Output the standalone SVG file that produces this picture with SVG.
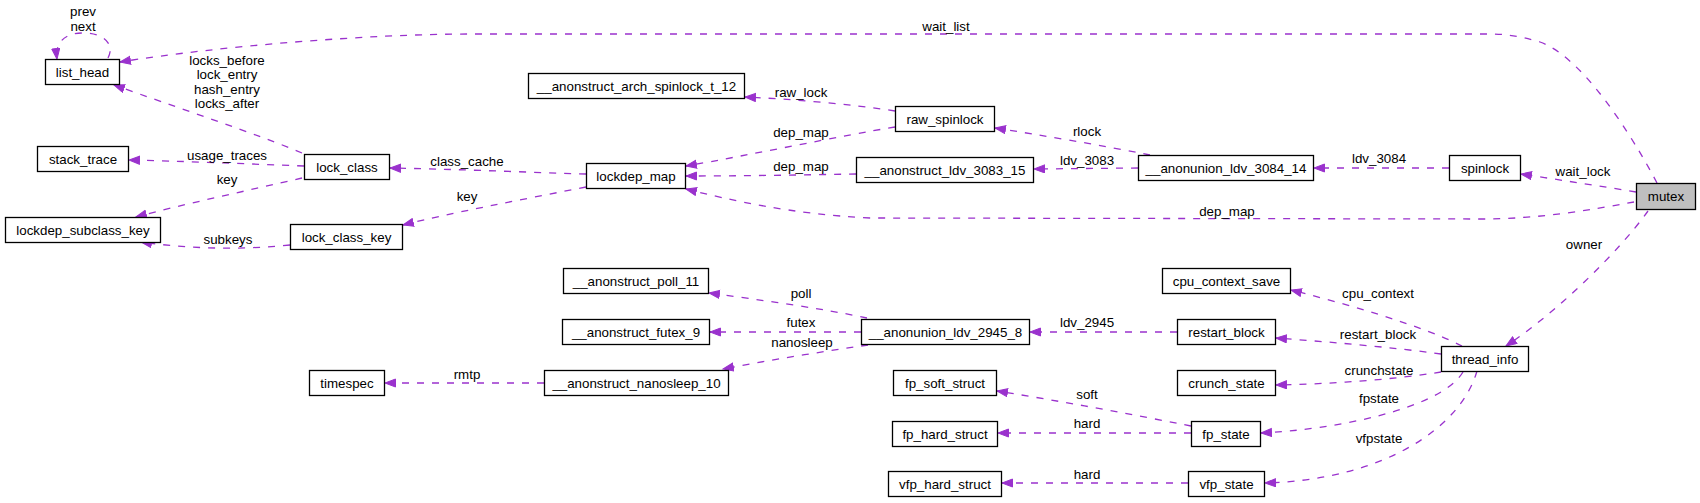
<svg xmlns="http://www.w3.org/2000/svg" width="1700" height="503" viewBox="0 0 1700 503">
<style>
.n rect{fill:#fff;stroke:#000;stroke-width:1.3}
.n text,.l{font-family:"Liberation Sans",Arial,sans-serif;font-size:13.33px;text-anchor:middle;fill:#000}
#mutex rect{fill:#bfbfbf}
.e path{fill:none;stroke:#9a32cd;stroke-width:1.3;stroke-dasharray:7,8;marker-end:url(#a)}
</style>
<defs>
<marker id="a" markerUnits="userSpaceOnUse" markerWidth="13" markerHeight="10" refX="11" refY="4.5" orient="auto">
<path d="M0.5,0.5 L11,4.5 L0.5,8.5 z" fill="#9a32cd" stroke="#9a32cd" stroke-width="1"/>
</marker>
</defs>
<rect width="1700" height="503" fill="#fff"/>
<g id="edges" class="e">
<path d="M1657,183 C1645,160 1590,60 1540,42 C1520,36 1505,34 1490,34 L470,34 C370,34 220,46 120,62"/>
<path d="M108,58 C115,45 105,33 83,33 C65,33 55,42 57,59"/>
<path d="M302,153 C260,135 170,105 114,85"/>
<path d="M304,166 C250,164 180,161 129,160"/>
<path d="M302,178 C250,190 180,205 136,217"/>
<path d="M586,174 C520,172 450,169 390,168"/>
<path d="M586,187 C520,200 450,213 403,225"/>
<path d="M290,245 C240,250 190,249 141,242"/>
<path d="M895,111 C850,104 790,99 745,97"/>
<path d="M895,127 C840,136 750,155 686,166"/>
<path d="M856,174 C800,175 740,176 686,176"/>
<path d="M1634,202 C1590,210 1540,219 1480,219 L870,218 C790,214 730,200 686,189"/>
<path d="M1150,155 C1100,145 1040,135 995,128"/>
<path d="M1138,168 L1034,169"/>
<path d="M1449,168 L1314,168"/>
<path d="M1636,192 C1600,186 1560,180 1521,174"/>
<path d="M1648,211 C1620,250 1560,310 1506,346"/>
<path d="M1462,346 C1420,325 1350,305 1291,290"/>
<path d="M1441,354 C1390,347 1330,342 1276,338"/>
<path d="M1441,372 C1390,380 1330,384 1276,385"/>
<path d="M1463,372 C1440,410 1330,430 1261,433"/>
<path d="M1477,371 C1460,430 1380,480 1265,483"/>
<path d="M1177,332 L1030,332"/>
<path d="M867,318 C820,308 760,300 709,293"/>
<path d="M861,332 L710,332"/>
<path d="M868,345 C820,352 770,360 723,369"/>
<path d="M544,383 L385,383"/>
<path d="M1191,426 C1130,414 1060,401 997,391"/>
<path d="M1191,433 L998,433"/>
<path d="M1188,483 L1002,483"/>
</g>
<g id="labels">
<text class="l" x="946" y="31">wait_list</text>
<text class="l" x="83" y="16">prev</text>
<text class="l" x="83" y="31">next</text>
<text class="l" x="227" y="64.5">locks_before</text>
<text class="l" x="227" y="79">lock_entry</text>
<text class="l" x="227" y="93.5">hash_entry</text>
<text class="l" x="227" y="108">locks_after</text>
<text class="l" x="227" y="159.5">usage_traces</text>
<text class="l" x="227" y="184">key</text>
<text class="l" x="228" y="244">subkeys</text>
<text class="l" x="467" y="166">class_cache</text>
<text class="l" x="467" y="201">key</text>
<text class="l" x="801" y="97">raw_lock</text>
<text class="l" x="801" y="137">dep_map</text>
<text class="l" x="801" y="171">dep_map</text>
<text class="l" x="1227" y="216">dep_map</text>
<text class="l" x="1087" y="136">rlock</text>
<text class="l" x="1087" y="165">ldv_3083</text>
<text class="l" x="1379" y="163">ldv_3084</text>
<text class="l" x="1583" y="176">wait_lock</text>
<text class="l" x="1584" y="249">owner</text>
<text class="l" x="1378" y="298">cpu_context</text>
<text class="l" x="1378" y="339">restart_block</text>
<text class="l" x="1379" y="375">crunchstate</text>
<text class="l" x="1379" y="403">fpstate</text>
<text class="l" x="1379" y="443">vfpstate</text>
<text class="l" x="1087" y="327">ldv_2945</text>
<text class="l" x="801" y="298">poll</text>
<text class="l" x="801" y="327">futex</text>
<text class="l" x="802" y="347">nanosleep</text>
<text class="l" x="467" y="379">rmtp</text>
<text class="l" x="1087" y="399">soft</text>
<text class="l" x="1087" y="428">hard</text>
<text class="l" x="1087" y="479">hard</text>
</g>
<g id="list_head" class="n"><rect x="45.5" y="59.5" width="74" height="25"/><text x="82.5" y="76.5">list_head</text></g>
<g id="stack_trace" class="n"><rect x="37.5" y="146.5" width="91" height="25"/><text x="83" y="163.5">stack_trace</text></g>
<g id="lockdep_subclass_key" class="n"><rect x="5.5" y="217.5" width="155" height="25"/><text x="83" y="234.5">lockdep_subclass_key</text></g>
<g id="lock_class" class="n"><rect x="304.5" y="154.5" width="85" height="25"/><text x="347" y="171.5">lock_class</text></g>
<g id="lock_class_key" class="n"><rect x="290.5" y="224.5" width="112" height="25"/><text x="346.5" y="241.5">lock_class_key</text></g>
<g id="timespec" class="n"><rect x="309.5" y="370.5" width="75" height="25"/><text x="347" y="387.5">timespec</text></g>
<g id="arch_spinlock" class="n"><rect x="528.5" y="73.5" width="216" height="25"/><text x="636.5" y="90.5">__anonstruct_arch_spinlock_t_12</text></g>
<g id="lockdep_map" class="n"><rect x="586.5" y="163.5" width="99" height="25"/><text x="636" y="180.5">lockdep_map</text></g>
<g id="poll_11" class="n"><rect x="563.5" y="268.5" width="145" height="25"/><text x="636" y="285.5">__anonstruct_poll_11</text></g>
<g id="futex_9" class="n"><rect x="562.5" y="319.5" width="147" height="25"/><text x="636" y="336.5">__anonstruct_futex_9</text></g>
<g id="nanosleep_10" class="n"><rect x="544.5" y="370.5" width="184" height="25"/><text x="636.5" y="387.5">__anonstruct_nanosleep_10</text></g>
<g id="raw_spinlock" class="n"><rect x="895.5" y="106.5" width="99" height="25"/><text x="945" y="123.5">raw_spinlock</text></g>
<g id="ldv_3083_15" class="n"><rect x="856.5" y="157.5" width="177" height="25"/><text x="945" y="174.5">__anonstruct_ldv_3083_15</text></g>
<g id="ldv_2945_8" class="n"><rect x="861.5" y="319.5" width="168" height="25"/><text x="945.5" y="336.5">__anonunion_ldv_2945_8</text></g>
<g id="fp_soft_struct" class="n"><rect x="893.5" y="370.5" width="103" height="25"/><text x="945" y="387.5">fp_soft_struct</text></g>
<g id="fp_hard_struct" class="n"><rect x="892.5" y="421.5" width="105" height="25"/><text x="945" y="438.5">fp_hard_struct</text></g>
<g id="vfp_hard_struct" class="n"><rect x="888.5" y="471.5" width="113" height="25"/><text x="945" y="488.5">vfp_hard_struct</text></g>
<g id="ldv_3084_14" class="n"><rect x="1138.5" y="155.5" width="175" height="25"/><text x="1226" y="172.5">__anonunion_ldv_3084_14</text></g>
<g id="cpu_context_save" class="n"><rect x="1162.5" y="268.5" width="128" height="25"/><text x="1226.5" y="285.5">cpu_context_save</text></g>
<g id="restart_block" class="n"><rect x="1177.5" y="319.5" width="98" height="25"/><text x="1226.5" y="336.5">restart_block</text></g>
<g id="crunch_state" class="n"><rect x="1177.5" y="370.5" width="98" height="25"/><text x="1226.5" y="387.5">crunch_state</text></g>
<g id="fp_state" class="n"><rect x="1191.5" y="421.5" width="69" height="25"/><text x="1226" y="438.5">fp_state</text></g>
<g id="vfp_state" class="n"><rect x="1188.5" y="471.5" width="76" height="25"/><text x="1226.5" y="488.5">vfp_state</text></g>
<g id="spinlock" class="n"><rect x="1449.5" y="155.5" width="71" height="25"/><text x="1485" y="172.5">spinlock</text></g>
<g id="thread_info" class="n"><rect x="1441.5" y="346.5" width="87" height="25"/><text x="1485" y="363.5">thread_info</text></g>
<g id="mutex" class="n"><rect x="1636.5" y="183.5" width="59" height="26"/><text x="1666" y="201">mutex</text></g>
</svg>
